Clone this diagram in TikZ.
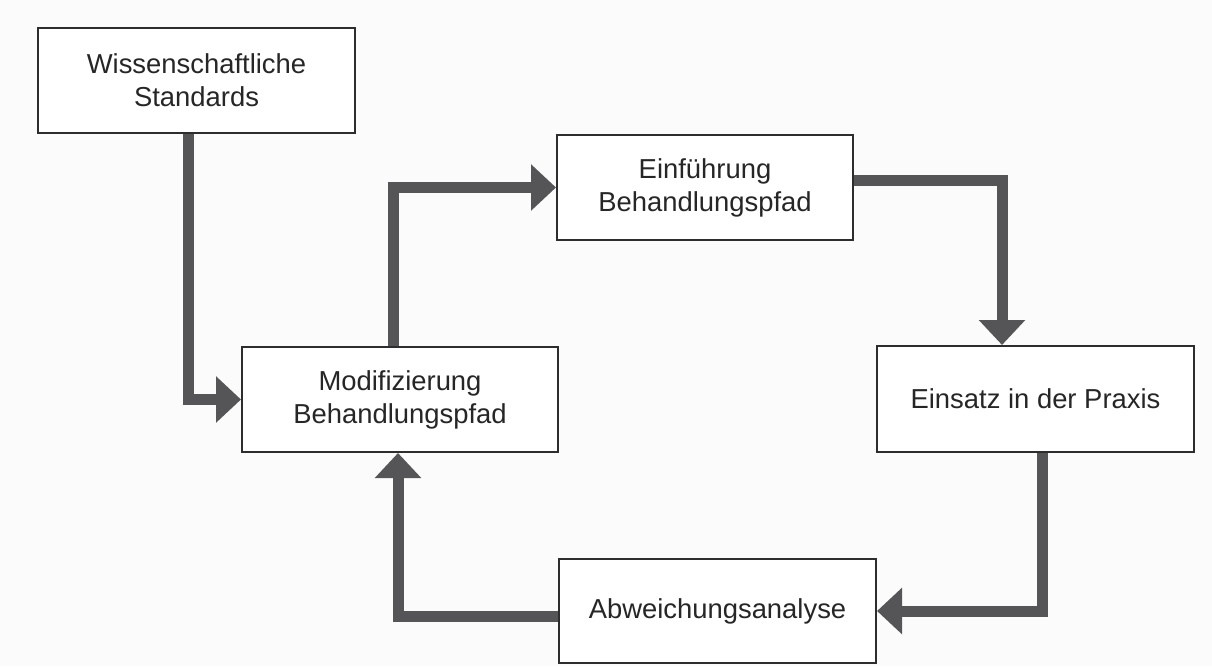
\documentclass[tikz,border=0pt]{standalone}
\usepackage{fontspec}
\setmainfont{Liberation Sans}
\usetikzlibrary{arrows.meta}
\definecolor{flowgray}{RGB}{85,85,87}
\definecolor{boxline}{RGB}{45,45,45}
\definecolor{paper}{RGB}{251,251,251}
\begin{document}
\begin{tikzpicture}[x=0.02cm,y=-0.02cm,
  stepbox/.style={draw=boxline, line width=0.04cm, fill=white, align=center,
    text=black!85, inner sep=0pt,
    font=\fontsize{15.6}{18.8}\selectfont},
  flow/.style={draw=flowgray, line width=0.22cm, line join=miter,
    -{Triangle[length=0.5cm,width=0.9cm]}}]
  % canvas
  \fill[paper] (0,0) rectangle (1212,666);
  \useasboundingbox (0,0) rectangle (1212,666);

  % process boxes
  \node[stepbox, minimum width=0.02cm*317, minimum height=0.02cm*105] (std)
    at (196.5,80.5) {Wissenschaftliche\\Standards};
  \node[stepbox, minimum width=0.02cm*296, minimum height=0.02cm*105] (einf)
    at (705,187.5) {Einführung\\Behandlungspfad};
  \node[stepbox, minimum width=0.02cm*316, minimum height=0.02cm*105] (mod)
    at (400,399.5) {Modifizierung\\Behandlungspfad};
  \node[stepbox, minimum width=0.02cm*317, minimum height=0.02cm*106] (prax)
    at (1035.5,399) {Einsatz in der Praxis};
  \node[stepbox, minimum width=0.02cm*317, minimum height=0.02cm*104] (abw)
    at (717.5,611) {Abweichungsanalyse};

  % connectors
  \draw[flow] ([xshift=-0.17cm]std.south) |- (mod.west);
  \draw[flow] ([xshift=-0.14cm]mod.north) |- (einf.west);
  \draw[flow] ([yshift=0.15cm]einf.east) -| ([xshift=-0.67cm]prax.north);
  \draw[flow] ([xshift=0.13cm]prax.south) |- (abw.east);
  \draw[flow] ([yshift=-0.1cm]abw.west) -| ([xshift=-0.04cm]mod.south);
\end{tikzpicture}
\end{document}
